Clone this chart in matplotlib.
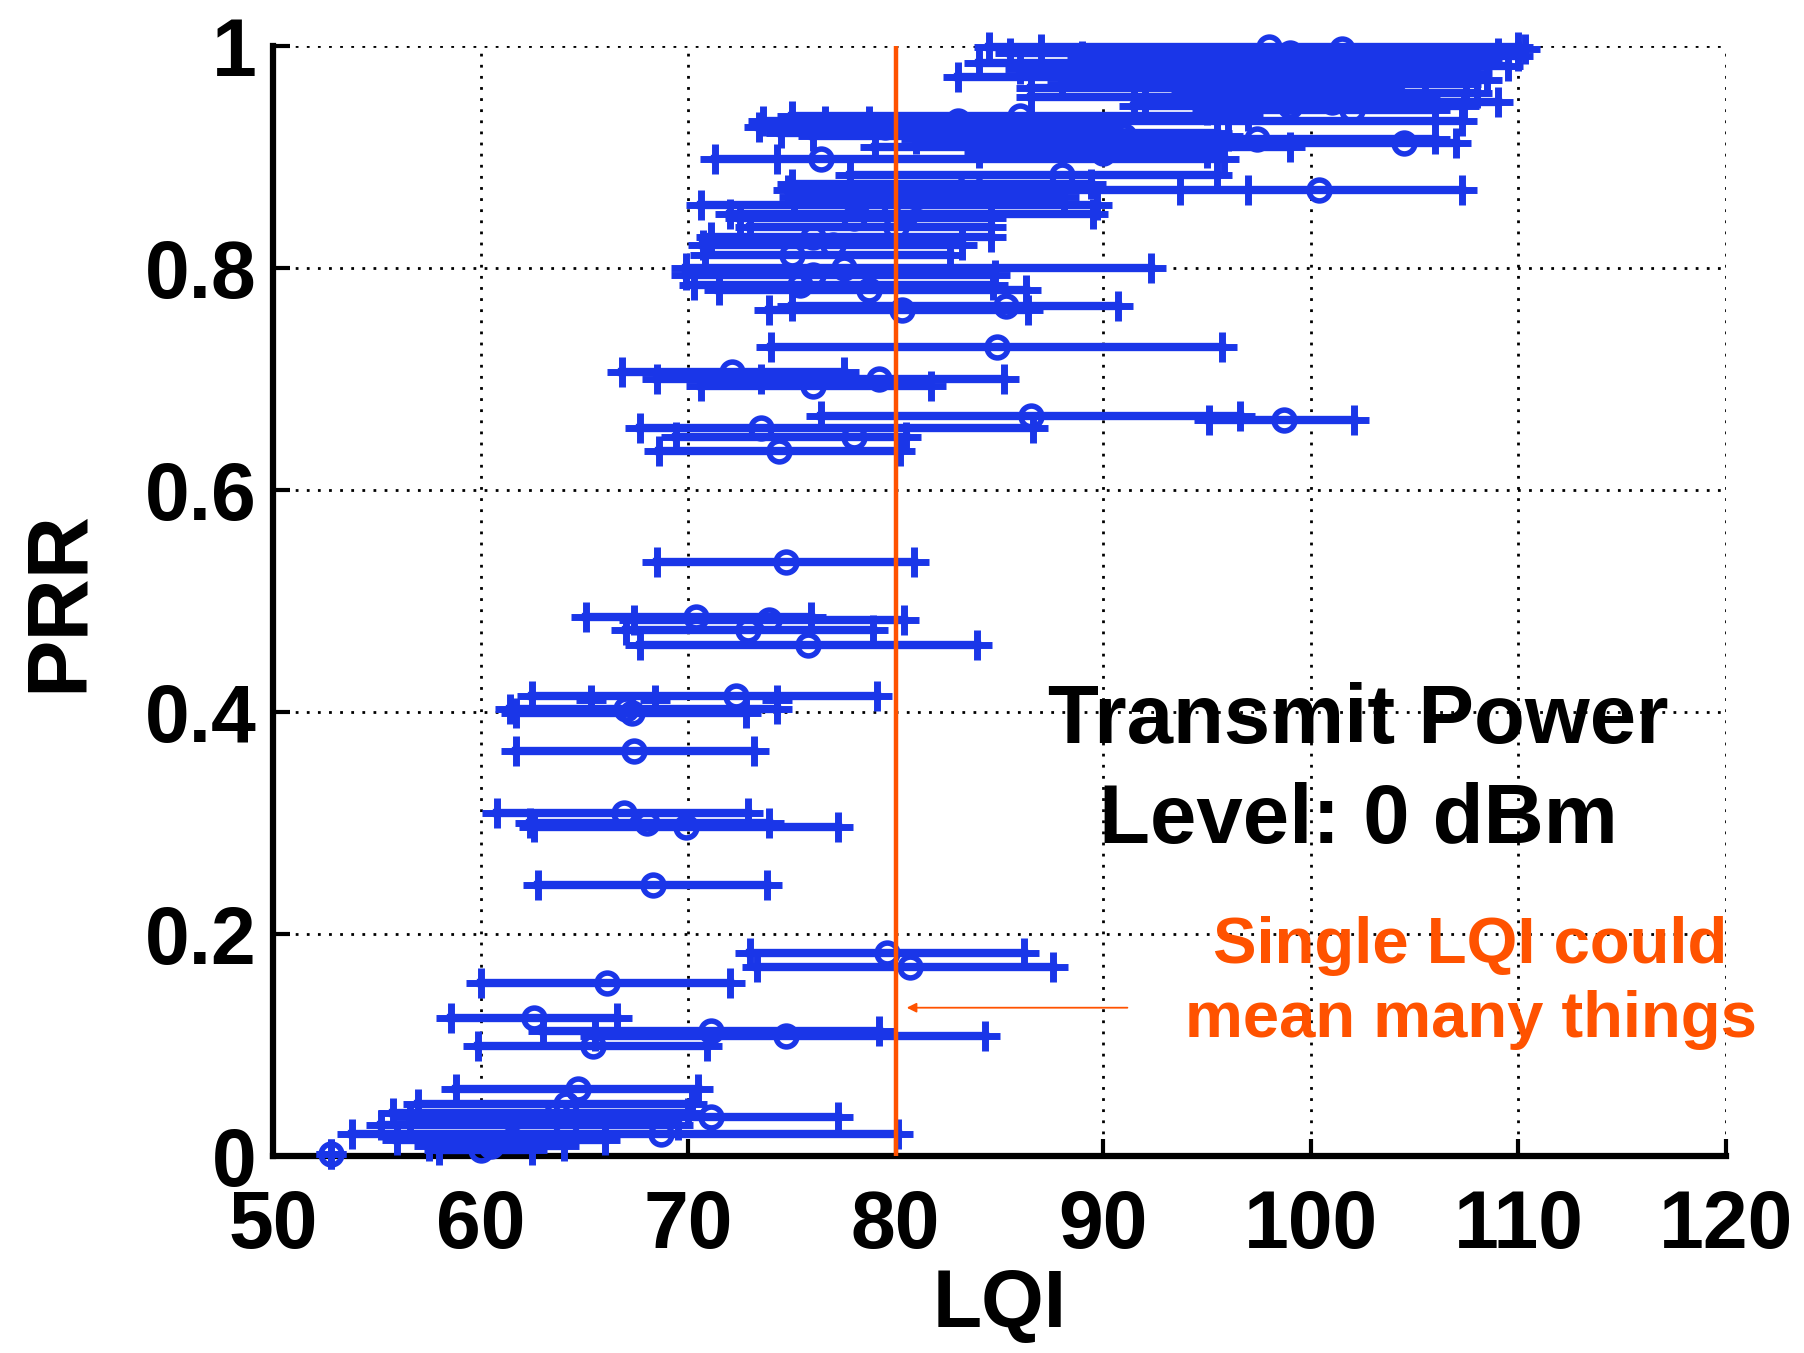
import matplotlib.pyplot as plt

# one row per link: PRR and LQI min / mean / max
prr = [0.999, 0.997, 0.994, 0.991, 0.988, 0.985, 0.982, 0.979, 0.976, 0.972,
       0.969, 0.966, 0.962, 0.958, 0.954, 0.950, 0.946, 0.942,
       0.937, 0.932, 0.927, 0.922, 0.919, 0.916, 0.913, 0.909, 0.904, 0.898,
       0.884, 0.876, 0.870, 0.864, 0.857, 0.849, 0.845, 0.837, 0.828, 0.821,
       0.812, 0.800, 0.794, 0.785, 0.780, 0.766, 0.762, 0.729,
       0.706, 0.700, 0.694, 0.667, 0.663, 0.656, 0.648, 0.635,
       0.535, 0.486, 0.483, 0.474, 0.460, 0.414, 0.403, 0.399, 0.365,
       0.309, 0.300, 0.296, 0.244, 0.183, 0.170, 0.156, 0.124, 0.113, 0.108, 0.099,
       0.060, 0.047, 0.039, 0.035, 0.028, 0.020, 0.014, 0.009, 0.005, 0.002]
lqi_min = [84.5, 87.0, 85.5, 89.0, 90.5, 84.0, 93.0, 86.0, 91.0, 83.0,
           95.0, 88.0, 86.5, 94.0, 86.5, 92.0, 91.5, 95.0,
           75.0, 73.6, 73.4, 74.5, 76.0, 81.0, 88.0, 79.0, 84.0, 71.3,
           77.8, 75.0, 74.8, 75.1, 70.6, 72.0, 72.5, 73.0, 71.1, 70.7,
           70.8, 69.9, 69.9, 70.3, 71.5, 75.0, 73.9, 74.0,
           66.8, 68.5, 70.6, 76.4, 95.1, 67.7, 69.4, 68.6,
           68.5, 65.1, 67.4, 67.0, 67.7, 62.5, 61.4, 61.7, 61.7,
           60.8, 62.4, 62.6, 62.75, 73.0, 73.3, 60.0, 58.6, 63.0, 65.5, 59.9,
           58.8, 57.0, 55.8, 56.6, 55.2, 53.8, 56.0, 57.5, 58.0, 52.8]
lqi_mean = [98.0, 101.5, 99.0, 104.0, 102.5, 95.5, 105.0, 98.0, 101.0, 92.0,
            104.0, 99.5, 96.5, 103.0, 97.5, 101.0, 99.0, 102.0,
            86.0, 83.0, 79.5, 84.0, 91.0, 97.4, 104.5, 94.0, 90.0, 76.4,
            88.0, 83.6, 100.4, 81.0, 79.0, 80.5, 78.0, 80.0, 76.0, 77.0,
            75.0, 77.5, 76.0, 75.4, 78.7, 85.3, 80.3, 84.9,
            72.1, 79.2, 76.0, 86.5, 98.7, 73.5, 78.0, 74.4,
            74.7, 70.4, 73.9, 72.9, 75.8, 72.3, 67.0, 67.3, 67.4,
            66.9, 68.0, 69.9, 68.3, 79.6, 80.7, 66.1, 62.6, 71.1, 74.7, 65.4,
            64.7, 64.1, 63.7, 71.1, 64.1, 68.7, 61.5, 60.5, 60.0, 52.8]
lqi_max = [110.0, 110.3, 109.0, 110.0, 108.5, 107.0, 109.5, 106.5, 108.0, 104.0,
           108.5, 107.5, 103.0, 108.0, 105.5, 109.0, 107.4, 106.0,
           97.0, 107.3, 90.0, 95.5, 96.0, 106.0, 107.0, 99.0, 95.0, 95.8,
           95.5, 89.4, 107.3, 88.1, 89.7, 89.5, 84.6, 84.6, 84.6, 83.2,
           82.6, 92.3, 84.8, 84.7, 86.3, 90.7, 86.4, 95.7,
           77.5, 85.2, 81.7, 96.6, 102.1, 86.6, 80.5, 80.2,
           80.9, 75.9, 80.4, 78.9, 83.9, 79.1, 74.3, 72.8, 73.2,
           72.9, 73.9, 77.2, 73.8, 86.2, 87.6, 72.0, 66.6, 79.2, 84.3, 70.9,
           70.5, 70.2, 70.0, 77.2, 69.5, 80.1, 66.0, 64.0, 62.5, 52.8]

# extra '+' marks seen inside some rows
tick_lqi = [76.6, 78.7, 74.3, 93.7, 97.0, 65.3, 68.4, 74.3, 73.5]
tick_prr = [0.932, 0.932, 0.898, 0.870, 0.870, 0.411, 0.411, 0.411, 0.700]

plt.rcParams['font.family'] = ['Liberation Sans', 'DejaVu Sans']
plt.rcParams['font.weight'] = 'bold'

blue = '#1a36e8'
orange = '#ff5200'

fig = plt.figure(figsize=(18.04, 13.53), dpi=100)
ax = fig.add_axes([0.1513, 0.1456, 0.8054, 0.8204])

for y, lo, m, hi in zip(prr, lqi_min, lqi_mean, lqi_max):
    ax.plot([lo, hi], [y, y], '-', color=blue, lw=6, marker='+', ms=21,
            mew=5, zorder=3, clip_on=False)
    ax.plot(m, y, 'o', mfc='none', mec=blue, ms=15, mew=4, zorder=3, clip_on=False)
ax.plot(tick_lqi, tick_prr, '+', color=blue, ms=21, mew=5, ls='none', zorder=3)

# LQI = 80 marker line
ax.plot([80, 80], [0, 1], color=orange, lw=3.2, zorder=4)

ax.set_xlim(50, 120)
ax.set_ylim(0, 1)
ax.set_xticks(range(50, 121, 10))
ax.set_yticks([0, 0.2, 0.4, 0.6, 0.8, 1])
ax.set_yticklabels(['0', '0.2', '0.4', '0.6', '0.8', '1'])
ax.tick_params(labelsize=58, direction='in', length=12, width=3)
ax.tick_params(axis='x', pad=24)
ax.tick_params(axis='y', pad=12)
ax.grid(True, color='black', ls=(0, (1, 3)), lw=2, zorder=0)
ax.set_axisbelow(True)
for side in ['top', 'right']:
    ax.spines[side].set_visible(False)
for side in ['left', 'bottom']:
    ax.spines[side].set_linewidth(4.5)

ax.set_xlabel('LQI', fontsize=58, fontweight='bold', labelpad=2)
ax.set_ylabel('PRR', fontsize=62, fontweight='bold', labelpad=32)

ax.text(102.3, 0.372, 'Transmit Power', fontsize=60, fontweight='bold',
        ha='center', va='baseline')
ax.text(102.3, 0.2823, 'Level: 0 dBm', fontsize=60, fontweight='bold',
        ha='center', va='baseline')
ax.text(107.7, 0.1736, 'Single LQI could', fontsize=47, fontweight='bold',
        color=orange, ha='center', va='baseline', clip_on=False)
ax.text(107.7, 0.1075, 'mean many things', fontsize=47, fontweight='bold',
        color=orange, ha='center', va='baseline', clip_on=False)
ax.annotate('', xy=(80.4, 0.1336), xytext=(91.3, 0.1336),
            arrowprops=dict(arrowstyle='-|>', color=orange, lw=1.3,
                            mutation_scale=14))

fig.savefig('out.png', dpi=100)
